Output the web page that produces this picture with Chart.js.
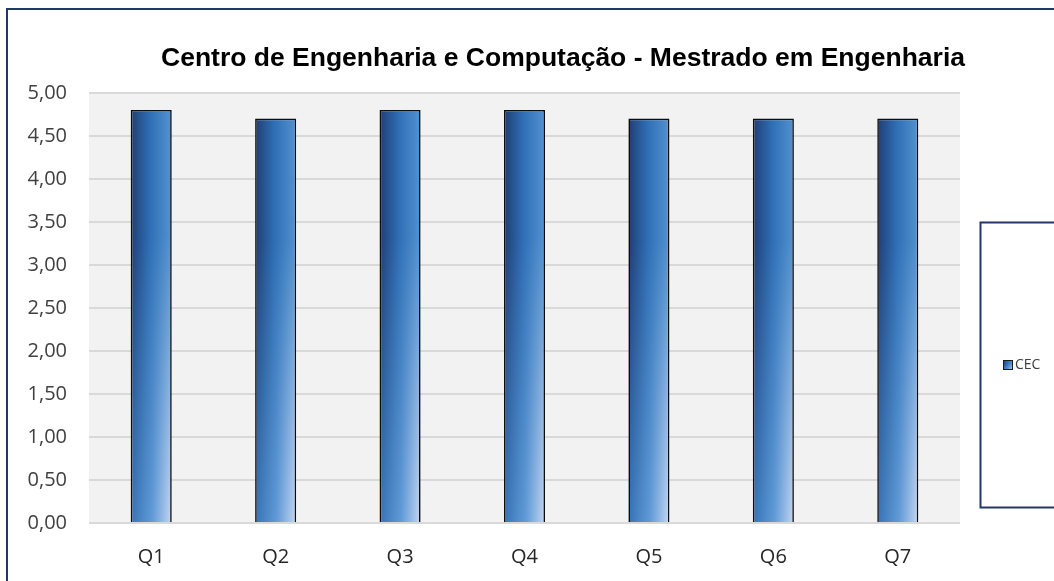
<!DOCTYPE html>
<html>
<head>
<meta charset="utf-8">
<script src="https://cdn.jsdelivr.net/npm/chart.js@4.4.1/dist/chart.umd.min.js"></script>
<style>
  html, body { margin: 0; padding: 0; background: #fff; overflow: hidden; }
  #wrap { position: relative; width: 1126px; height: 581px; }
</style>
</head>
<body>
<div id="wrap"><canvas id="chart" width="1126" height="581"></canvas></div>
<script>
const titleText = 'Centro de Engenharia e Computação - Mestrado em Engenharia';
const categories = ['Q1', 'Q2', 'Q3', 'Q4', 'Q5', 'Q6', 'Q7'];
const seriesName = 'CEC';
const cecValues = [4.8, 4.7, 4.8, 4.8, 4.7, 4.7, 4.7];
const yMin = 0, yMax = 5, yStep = 0.5;

const tickFont = { family: "'Open Sans', 'Noto Sans', sans-serif", size: 20 };
const barPct = 0.33;

// bar gradient: dark on the left, lighter on the right, paler toward the bottom
function barPaint(w, h) {
    const c = document.createElement('canvas');
    c.width = Math.max(1, Math.ceil(w) || 1);
    c.height = Math.max(1, Math.ceil(h) || 1);
    const g = c.getContext('2d');
    const hg = g.createLinearGradient(0, 0, c.width, 0);
    hg.addColorStop(0, '#213d73');
    hg.addColorStop(0.45, '#2e6fb5');
    hg.addColorStop(1, '#5796d3');
    g.fillStyle = hg;
    g.fillRect(0, 0, c.width, c.height);
    const o = document.createElement('canvas');
    o.width = c.width; o.height = c.height;
    const og = o.getContext('2d');
    const wg = og.createLinearGradient(0, 0, o.width, 0);
    wg.addColorStop(0, 'rgba(60,130,200,0.8)');
    wg.addColorStop(0.5, 'rgba(110,165,222,0.8)');
    wg.addColorStop(1, 'rgba(212,222,244,1)');
    og.fillStyle = wg;
    og.fillRect(0, 0, o.width, o.height);
    og.globalCompositeOperation = 'destination-in';
    const vg = og.createLinearGradient(0, 0, 0, o.height);
    vg.addColorStop(0, 'rgba(0,0,0,0)');
    vg.addColorStop(0.3, 'rgba(0,0,0,0)');
    vg.addColorStop(1, 'rgba(0,0,0,1)');
    og.fillStyle = vg;
    og.fillRect(0, 0, o.width, o.height);
    g.drawImage(o, 0, 0);
    return c;
}

function barFill(context) {
    const chart = context.chart;
    const xs = chart.scales.x, ys = chart.scales.y;
    if (!xs || !ys || context.dataIndex === undefined) return '#2e75b6';
    const w = (xs.width / categories.length) * barPct;
    const left = xs.getPixelForValue(context.dataIndex) - w / 2;
    const top = ys.getPixelForValue(context.raw);
    const base = ys.getPixelForValue(0);
    if (![w, left, top, base].every(Number.isFinite) || base - top < 1) return '#2e75b6';
    const pat = chart.ctx.createPattern(barPaint(w + 1, base - top + 1), 'no-repeat');
    pat.setTransform(new DOMMatrix().translate(left, top));
    return pat;
}

const decor = {
    id: 'decor',
    beforeDraw(chart) {
        const { ctx, chartArea: a } = chart;
        ctx.save();
        ctx.fillStyle = '#f2f2f2';
        ctx.fillRect(a.left, a.top, a.right - a.left, a.bottom - a.top);
        ctx.restore();
    },
    afterDraw(chart) {
        const { ctx } = chart;
        ctx.save();
        // outer frame
        ctx.strokeStyle = '#1f3864';
        ctx.lineWidth = 2;
        ctx.strokeRect(7, 9, 1200, 700);
        // legend box
        ctx.strokeRect(980.5, 222.5, 200, 285);
        // legend entry
        const pat = ctx.createPattern(barPaint(10, 10), 'no-repeat');
        pat.setTransform(new DOMMatrix().translate(1003, 360));
        ctx.fillStyle = pat;
        ctx.fillRect(1003, 360, 10, 10);
        ctx.strokeStyle = '#1a1a1a';
        ctx.lineWidth = 1;
        ctx.strokeRect(1003.5, 360.5, 9, 9);
        ctx.fillStyle = '#404040';
        ctx.font = "14px 'Open Sans', 'Noto Sans', sans-serif";
        ctx.textBaseline = 'middle';
        ctx.fillText(chart.data.datasets[0].label, 1015, 365);
        ctx.restore();
    }
};

new Chart(document.getElementById('chart'), {
    type: 'bar',
    data: {
        labels: categories,
        datasets: [{
            label: seriesName,
            data: cecValues,
            backgroundColor: barFill,
            borderColor: '#0d0d0d',
            borderWidth: { top: 1.6, left: 1.6, right: 1.6, bottom: 0 },
            borderSkipped: false,
            categoryPercentage: 1,
            barPercentage: barPct
        }]
    },
    options: {
        responsive: false,
        animation: false,
        events: [],
        layout: { padding: 0 },
        plugins: {
            legend: { display: false },
            tooltip: { enabled: false },
            title: {
                display: true,
                text: titleText,
                color: '#000000',
                font: { family: "'Liberation Sans', Arial, sans-serif", size: 26.5, weight: 'bold' },
                padding: { top: 43, bottom: 18 }
            }
        },
        scales: {
            x: {
                grid: { display: false },
                border: { display: false },
                ticks: { color: '#262626', font: tickFont, padding: 14 },
                afterFit(s) { s.height = 58; }
            },
            y: {
                min: yMin,
                max: yMax,
                grid: { color: '#d9d9d9', lineWidth: 2, drawTicks: false },
                border: { display: false },
                ticks: {
                    stepSize: yStep,
                    color: '#404040',
                    font: tickFont,
                    padding: 22,
                    callback: v => v.toFixed(2).replace('.', ',')
                },
                afterFit(s) { s.width = 89; }
            },
            // empty right-hand axis that keeps room for the legend box
            side: {
                type: 'linear',
                position: 'right',
                min: yMin,
                max: yMax,
                grid: { display: false },
                border: { display: false },
                ticks: { display: false },
                afterFit(s) { s.width = 166; }
            }
        }
    },
    plugins: [decor]
});
</script>
</body>
</html>
